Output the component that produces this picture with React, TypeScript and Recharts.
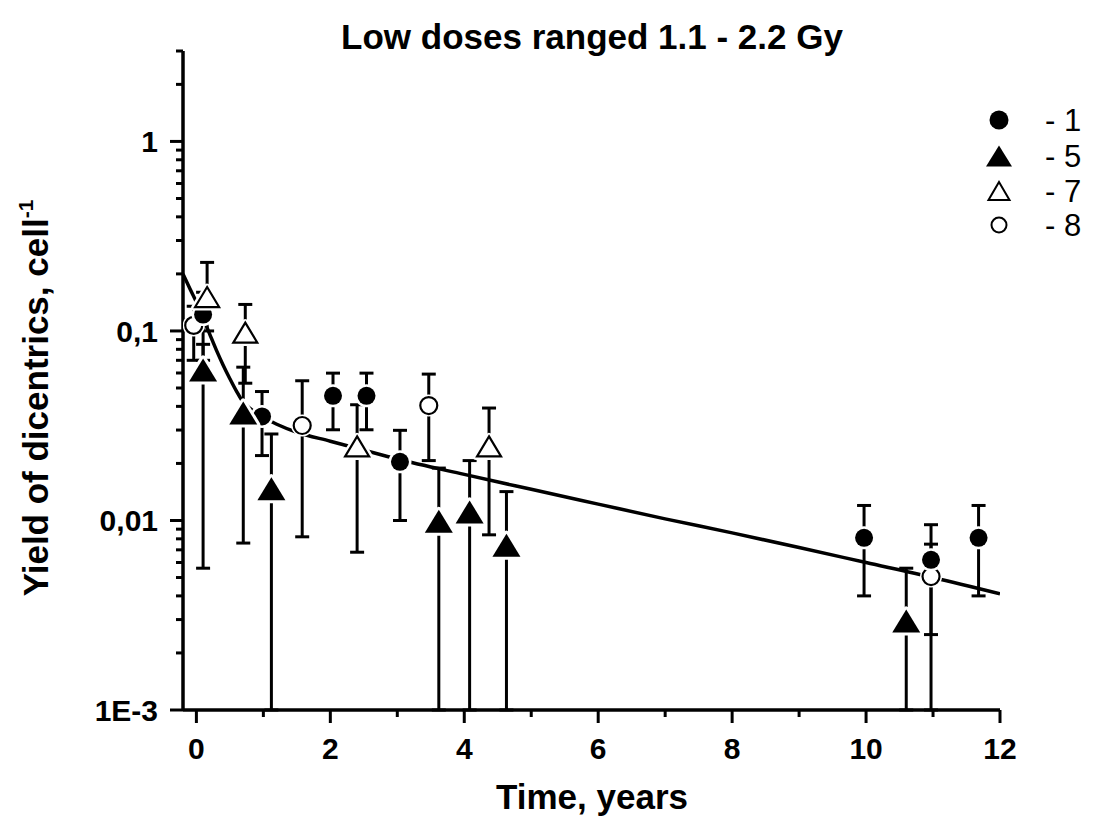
import React from 'react';
import { ComposedChart, Scatter, Line, XAxis, YAxis, ErrorBar } from 'recharts';

const FONT = '"Liberation Sans", Arial, Helvetica, sans-serif';

// series "1" - filled circles
const s1Time = [0.1, 0.98, 2.04, 2.54, 3.04, 9.97, 10.97, 11.68];
const s1Yield = [0.122, 0.0354, 0.0455, 0.0455, 0.0204, 0.0081, 0.0062, 0.0081];
const s1Low = [0.07, 0.022, 0.0301, 0.0301, 0.01, 0.004, 0.0025, 0.004];
const s1High = [0.16, 0.0479, 0.0599, 0.0599, 0.0299, 0.012, 0.0095, 0.012];

// series "5" - filled triangles
const s5Time = [0.1, 0.7, 1.12, 3.62, 4.08, 4.63, 10.6];
const s5Yield = [0.0623, 0.0369, 0.0147, 0.0099, 0.0111, 0.0074, 0.00295];
const s5Low = [0.0056, 0.0076, 0.001, 0.001, 0.001, 0.001, 0.001];
const s5High = [0.085, 0.0644, 0.0286, 0.0189, 0.0207, 0.0142, 0.0056];

// series "7" - open triangles
const s7Time = [0.16, 0.73, 2.4, 4.37];
const s7Yield = [0.151, 0.098, 0.0246, 0.0246];
const s7Low = [0.1, 0.053, 0.0068, 0.0084];
const s7High = [0.23, 0.138, 0.0408, 0.0392];

// series "8" - open circles
const s8Time = [-0.04, 1.58, 3.47, 10.97];
const s8Yield = [0.107, 0.0317, 0.0404, 0.00506];
const s8Low = [0.07, 0.0082, 0.0207, 0.001];
const s8High = [0.135, 0.0546, 0.0592, 0.0075];

// fitted curve
const fitTime = [-0.2, -0.1, 0, 0.1, 0.2, 0.3, 0.4, 0.5, 0.6, 0.7, 0.8, 1.0, 1.2, 1.5, 2, 2.5, 3, 4, 5, 6, 7, 8, 9, 10, 11, 12];
const fitYield = [0.2, 0.168, 0.142, 0.117, 0.096, 0.079, 0.066, 0.056, 0.048, 0.042, 0.039, 0.035, 0.0322, 0.0292, 0.0262, 0.0235, 0.0211, 0.0175, 0.0146, 0.0122, 0.0102, 0.0086, 0.0072, 0.006, 0.005, 0.0041];

const xTicks = [0, 1, 2, 3, 4, 5, 6, 7, 8, 9, 10, 11, 12];
const xMajor = [0, 2, 4, 6, 8, 10, 12];
const yTicks = [
  0.001, 0.002, 0.003, 0.004, 0.005, 0.006, 0.007, 0.008, 0.009,
  0.01, 0.02, 0.03, 0.04, 0.05, 0.06, 0.07, 0.08, 0.09,
  0.1, 0.2, 0.3, 0.4, 0.5, 0.6, 0.7, 0.8, 0.9,
  1, 2, 3,
];
const yMajor = [0.001, 0.01, 0.1, 1];
const yMajorLabels = ['1E-3', '0,01', '0,1', '1'];

const legendNames = ['- 1', '- 5', '- 7', '- 8'];

const build = (t: number[], v: number[], lo: number[], hi: number[]) =>
  t.map((x, i) => ({ t: x, v: v[i], err: [v[i] - lo[i], hi[i] - v[i]] }));

const s1Data = build(s1Time, s1Yield, s1Low, s1High);
const s5Data = build(s5Time, s5Yield, s5Low, s5High);
const s7Data = build(s7Time, s7Yield, s7Low, s7High);
const s8Data = build(s8Time, s8Yield, s8Low, s8High);
const fitData = fitTime.map((t, i) => ({ t, v: fitYield[i] }));

const triPath = (cx: number, cy: number, w: number, h: number) =>
  `M${cx},${cy - h / 2} L${cx + w / 2},${cy + h / 2} L${cx - w / 2},${cy + h / 2} Z`;

const FilledCircle = (p: any) => (
  <g>
    <circle cx={p.cx} cy={p.cy} r={11.5} fill="#fff" />
    <circle cx={p.cx} cy={p.cy} r={9} fill="#000" />
  </g>
);

const OpenCircle = (p: any) => (
  <g>
    <circle cx={p.cx} cy={p.cy} r={11} fill="#fff" />
    <circle cx={p.cx} cy={p.cy} r={8.5} fill="#fff" stroke="#000" strokeWidth={2.2} />
  </g>
);

const FilledTriangle = (p: any) => (
  <g>
    <path d={triPath(p.cx, p.cy, 28, 23)} fill="#fff" stroke="#fff" strokeWidth={6} strokeLinejoin="round" />
    <path d={triPath(p.cx, p.cy, 28, 23)} fill="#000" />
  </g>
);

const OpenTriangle = (p: any) => (
  <g>
    <path d={triPath(p.cx, p.cy, 26, 21)} fill="#fff" stroke="#fff" strokeWidth={6} strokeLinejoin="round" />
    <path d={triPath(p.cx, p.cy, 24, 20)} fill="#fff" stroke="#000" strokeWidth={2.2} />
  </g>
);

const YTick = (props: any) => {
  const { x, y, payload } = props;
  const idx = yMajor.findIndex((m) => Math.abs(m - payload.value) < 1e-9);
  const major = idx >= 0;
  return (
    <g>
      <line x1={x} x2={x - (major ? 13 : 7)} y1={y} y2={y} stroke="#000" strokeWidth={3} />
      {major && (
        <text x={x - 25} y={y + 11} textAnchor="end" fontFamily={FONT} fontWeight="bold" fontSize={30} fill="#000">
          {yMajorLabels[idx]}
        </text>
      )}
    </g>
  );
};

const XTick = (props: any) => {
  const { x, y, payload } = props;
  const major = xMajor.includes(payload.value);
  return (
    <g>
      <line x1={x} x2={x} y1={y} y2={y + (major ? 13 : 7)} stroke="#000" strokeWidth={3} />
      {major && (
        <text x={x} y={y + 49} textAnchor="middle" fontFamily={FONT} fontWeight="bold" fontSize={30} fill="#000">
          {payload.value}
        </text>
      )}
    </g>
  );
};

const XTitle = () => (
  <text x={584} y={801} textAnchor="middle" fontFamily={FONT} fontWeight="bold" fontSize={35} fill="#000">
    Time, years
  </text>
);

const YTitle = () => (
  <text
    x={40}
    y={390}
    transform="rotate(-90, 40, 390)"
    textAnchor="middle"
    fontFamily={FONT}
    fontWeight="bold"
    fontSize={35}
    fill="#000"
  >
    Yield of dicentrics, cell
    <tspan dy={-15} fontSize={21}>-1</tspan>
  </text>
);

const legendShapes = [
  (cx: number, cy: number) => <circle cx={cx} cy={cy} r={9.5} fill="#000" />,
  (cx: number, cy: number) => <path d={triPath(cx, cy, 26, 21)} fill="#000" />,
  (cx: number, cy: number) => <path d={triPath(cx, cy, 21, 18)} fill="#fff" stroke="#000" strokeWidth={2} />,
  (cx: number, cy: number) => <circle cx={cx} cy={cy} r={7.5} fill="#fff" stroke="#000" strokeWidth={2} />,
];

const App: React.FC = () => {
  const W = 1103;
  const H = 819;
  return (
    <div style={{ position: 'relative', width: W, height: H, background: '#fff' }}>
      <ComposedChart width={W} height={H} margin={{ top: 43, right: 111, bottom: 0, left: 0 }}>
        <XAxis
          type="number"
          dataKey="t"
          domain={[-0.2, 12]}
          allowDataOverflow
          ticks={xTicks}
          interval={0}
          tick={<XTick />}
          tickLine={false}
          tickSize={0}
          tickMargin={0}
          height={117}
          axisLine={{ stroke: '#000', strokeWidth: 3.5 }}
          label={<XTitle />}
        />
        <YAxis
          type="number"
          dataKey="v"
          scale="log"
          domain={[0.001, 3]}
          allowDataOverflow
          ticks={yTicks}
          interval={0}
          tick={<YTick />}
          tickLine={false}
          tickSize={0}
          tickMargin={0}
          width={175}
          axisLine={{ stroke: '#000', strokeWidth: 3.5 }}
          label={<YTitle />}
        />
        <Scatter name="8" data={s8Data} dataKey="v" shape={OpenCircle} isAnimationActive={false}>
          <ErrorBar dataKey="err" direction="y" width={7} strokeWidth={3} stroke="#000" />
        </Scatter>
        <Scatter name="1" data={s1Data} dataKey="v" shape={FilledCircle} isAnimationActive={false}>
          <ErrorBar dataKey="err" direction="y" width={7} strokeWidth={3} stroke="#000" />
        </Scatter>
        <Scatter name="5" data={s5Data} dataKey="v" shape={FilledTriangle} isAnimationActive={false}>
          <ErrorBar dataKey="err" direction="y" width={7} strokeWidth={3} stroke="#000" />
        </Scatter>
        <Scatter name="7" data={s7Data} dataKey="v" shape={OpenTriangle} isAnimationActive={false}>
          <ErrorBar dataKey="err" direction="y" width={7} strokeWidth={3} stroke="#000" />
        </Scatter>
        <Line
          data={fitData}
          dataKey="v"
          type="monotone"
          stroke="#000"
          strokeWidth={3.5}
          dot={false}
          activeDot={false}
          isAnimationActive={false}
        />
      </ComposedChart>
      <svg width={W} height={H} style={{ position: 'absolute', left: 0, top: 0, pointerEvents: 'none' }}>
        <text x={584} y={41} textAnchor="middle" fontFamily={FONT} fontWeight="bold" fontSize={35} fill="#000">
          Low doses ranged 1.1 - 2.2 Gy
        </text>
        {legendNames.map((name, i) => {
          const cy = [112, 148, 183, 217][i];
          return (
            <g key={name}>
              {legendShapes[i](991, cy)}
              <text x={1037} y={cy + 11} fontFamily={FONT} fontSize={31} fill="#000">
                {name}
              </text>
            </g>
          );
        })}
      </svg>
    </div>
  );
};

export default App;
